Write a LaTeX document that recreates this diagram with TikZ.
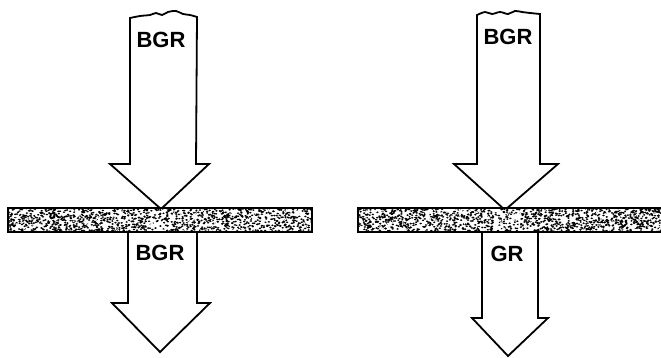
\documentclass[tikz,border=0pt]{standalone}
\usepackage{fontspec}
\setmainfont{Liberation Sans}
\begin{document}
\begin{tikzpicture}[x=1pt,y=-1pt,
  outline/.style={draw=black,line width=1.8pt,line join=miter,fill=white},
  barbox/.style={draw=black,line width=1.6pt},
  lbl/.style={inner sep=0pt,font=\fontsize{22}{22}\selectfont\bfseries}]
\useasboundingbox (0,0) rectangle (661,358);
\pgfmathsetseed{7}
% ---------- left top arrow ----------
\draw[outline] (197,17) -- (196,164) -- (209,164) -- (161,209) -- (110,164) -- (130,164) -- (130,18)
  -- plot[smooth] coordinates {(130,18) (140,16) (150,15) (156,13) (162,15) (168,12) (176,11) (183,14) (190,15) (197,17)} -- cycle;
% ---------- right top arrow ----------
\draw[outline] (540,14) -- (540,164) -- (558,164) -- (505,210) -- (454,164) -- (477,164) -- (477,15)
  -- plot[smooth] coordinates {(477,15) (485,12) (492,14) (500,12) (508,14) (515,11) (522,12) (530,13) (540,14)} -- cycle;
% ---------- bars ----------
\foreach \xa/\xb/\tx [count=\k] in {8/312/161, 358/662/505}{
  \fill[white] (\xa,208) rectangle (\xb,232);
  \begin{scope}
    \clip (\xa,208) rectangle (\xb,232);
    \foreach \i in {1,...,1300}{
      \pgfmathsetmacro\xx{\xa+(\xb-\xa)*rnd}
      \pgfmathsetmacro\yy{208+24*rnd}
      \pgfmathsetmacro\keep{(abs(\xx-\tx)>12 || rnd>0.45) ? 1 : 0}
      \ifdim\keep pt>0.5pt
        \fill[black] (\xx,\yy) ellipse[x radius=1.3,y radius=0.9];
      \fi
    }
    \foreach \i in {1,...,250}{
      \pgfmathsetmacro\xx{\xa+(\xb-\xa)*rnd}
      \pgfmathsetmacro\yy{208+24*rnd}
      \fill[white] (\xx,\yy) circle[radius=0.9];
    }
  \end{scope}
  \draw[barbox] (\xa,208) rectangle (\xb,232);
}
% ---------- left bottom arrow ----------
\draw[outline] (128,233) -- (128,303) -- (112,303) -- (160,352) -- (210,303) -- (197,303) -- (197,233);
% ---------- right bottom arrow ----------
\draw[outline] (482,233) -- (482,318) -- (472,318) -- (508,356) -- (548,318) -- (538,318) -- (538,233);
% ---------- labels ----------
\node[lbl] (tl) at (161,40) {BGR};
\node[lbl] (bl) at (160,253) {BGR};
\node[lbl] (tr) at (508,37) {BGR};
\node[lbl] (br) at (507,254) {GR};
\end{tikzpicture}
\end{document}
